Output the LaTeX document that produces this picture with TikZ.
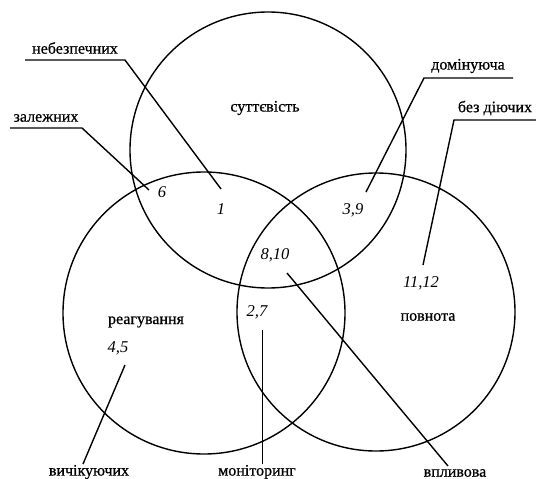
\documentclass[tikz,border=0pt]{standalone}
\usepackage{fontspec}
\setmainfont{Liberation Serif}
\newfontfamily\lblfont[FakeBold=0.7]{Liberation Serif}
\begin{document}
\begin{tikzpicture}[x=1pt,y=-1pt,
  ring/.style={draw,line width=1.4pt},
  lead/.style={draw,line width=1.4pt},
  lbl/.style={font=\lblfont\fontsize{16}{18}\selectfont,inner sep=0pt},
  num/.style={font=\fontsize{16.5}{18}\selectfont\itshape,inner sep=0pt}]
\useasboundingbox (0,0) rectangle (536,479);
% circles
\draw[ring] (268,150) circle (138);
\draw[ring] (204,313) circle (141);
\draw[ring] (376,312) circle (139);
% circle titles
\node[lbl] (sut) at (265,108) {суттєвість};
\node[lbl] (rea) at (146,322) {реагування};
\node[lbl] (pov) at (428,317) {повнота};
% numbers
\node[num] (n6) at (162,192) {6};
\node[num] (n1) at (221,209) {1};
\node[num] (n39) at (353,210) {3,9};
\node[num] (n810) at (275,255) {8,10};
\node[num] (n27) at (257,312) {2,7};
\node[num] (n1112) at (421,283) {11,12};
\node[num] (n45) at (118,348) {4,5};
% labels
\node[lbl] (lneb) at (75,48) {небезпечних};
\node[lbl] (lzal) at (46,118) {залежних};
\node[lbl] (ldom) at (468,66) {домінуюча};
\node[lbl] (lbez) at (495,108) {без діючих};
\node[lbl] (lvych) at (89,472) {вичікуючих};
\node[lbl] (lmon) at (257,472) {моніторинг};
\node[lbl] (lvpl) at (455,473) {впливова};
% leader coordinates
\coordinate (a1) at (25,60);   \coordinate (b1) at (125,60);  \coordinate (c1) at (221,189);
\coordinate (a2) at (10,128);  \coordinate (b2) at (82,128);  \coordinate (c2) at (149,190);
\coordinate (a3) at (513,78);  \coordinate (b3) at (424,78);  \coordinate (c3) at (366,192);
\coordinate (a4) at (536,120); \coordinate (b4) at (454,120); \coordinate (c4) at (423,265);
\coordinate (b5) at (287,273); \coordinate (c5) at (448,466);
\coordinate (b6) at (262.5,330); \coordinate (c6) at (262.5,464);
\coordinate (b7) at (125,365); \coordinate (c7) at (83,464);
\draw[lead] (a1) -- (b1) -- (c1);
\draw[lead] (a2) -- (b2) -- (c2);
\draw[lead] (a3) -- (b3) -- (c3);
\draw[lead] (a4) -- (b4) -- (c4);
\draw[lead] (b5) -- (c5);
\draw[lead] (b6) -- (c6);
\draw[lead] (b7) -- (c7);
\end{tikzpicture}
\end{document}
